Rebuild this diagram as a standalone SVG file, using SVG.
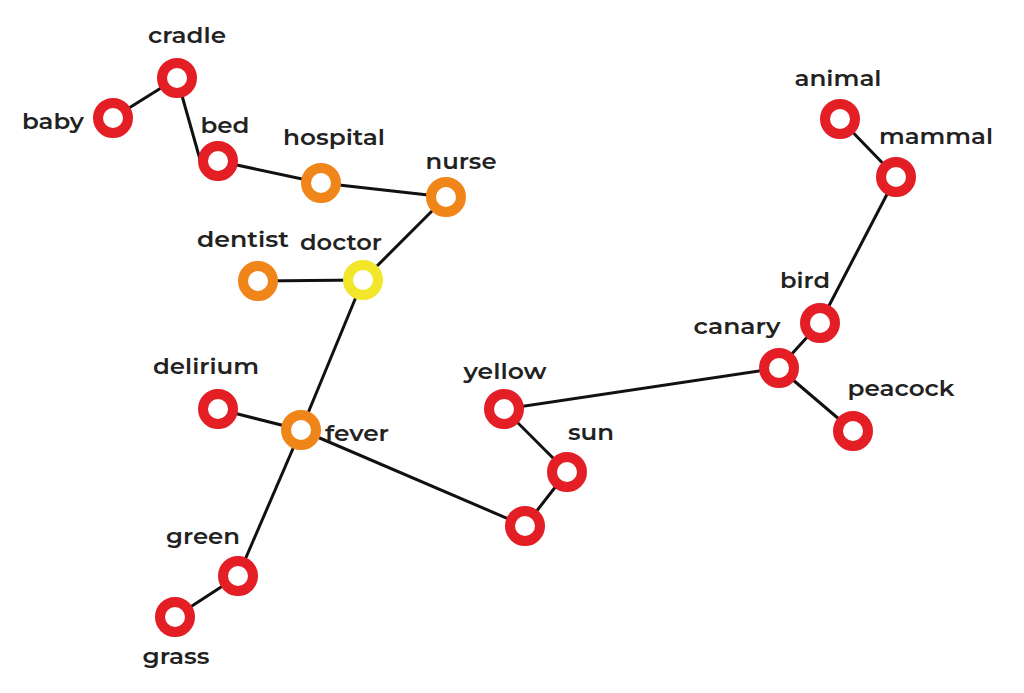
<svg xmlns="http://www.w3.org/2000/svg" width="1024" height="693" viewBox="0 0 1024 693">
<style>
.e{stroke:#111;stroke-width:3;fill:none}
.n{fill:#fff;stroke-width:10}
.r{stroke:#e31e25}
.o{stroke:#f08519}
.y{stroke:#f2e62b}
text{font-family:Montserrat,Inter,"Open Sans","Liberation Sans",sans-serif;font-weight:600;font-size:22.5px;fill:#222;text-anchor:middle}
</style>
<rect width="1024" height="693" fill="#fff"/>
<g id="edges">
<line class="e" x1="113" y1="118" x2="177" y2="78"/>
<line class="e" x1="177" y1="78" x2="201" y2="163"/>
<line class="e" x1="218" y1="161" x2="321" y2="183"/>
<line class="e" x1="321" y1="183" x2="446" y2="197"/>
<line class="e" x1="446" y1="197" x2="363" y2="280"/>
<line class="e" x1="258" y1="281" x2="363" y2="280"/>
<line class="e" x1="363" y1="280" x2="301" y2="430"/>
<line class="e" x1="218" y1="409" x2="301" y2="430"/>
<line class="e" x1="301" y1="430" x2="238" y2="576"/>
<line class="e" x1="238" y1="576" x2="175" y2="617"/>
<line class="e" x1="301" y1="430" x2="525" y2="526"/>
<line class="e" x1="525" y1="526" x2="567" y2="472"/>
<line class="e" x1="567" y1="472" x2="504" y2="409"/>
<line class="e" x1="504" y1="409" x2="779" y2="368"/>
<line class="e" x1="779" y1="368" x2="820" y2="323"/>
<line class="e" x1="820" y1="323" x2="896" y2="177"/>
<line class="e" x1="896" y1="177" x2="840" y2="119"/>
<line class="e" x1="779" y1="368" x2="853" y2="431"/>
</g>
<g id="cradle"><circle class="n r" cx="177" cy="78" r="15"/><text x="187" y="43" textLength="78" lengthAdjust="spacingAndGlyphs">cradle</text></g>
<g id="baby"><circle class="n r" cx="113" cy="118" r="15"/><text x="53" y="129" textLength="62" lengthAdjust="spacingAndGlyphs">baby</text></g>
<g id="bed"><circle class="n r" cx="218" cy="161" r="15"/><text x="225" y="133" textLength="49" lengthAdjust="spacingAndGlyphs">bed</text></g>
<g id="hospital"><circle class="n o" cx="321" cy="183" r="15"/><text x="334" y="145" textLength="102" lengthAdjust="spacingAndGlyphs">hospital</text></g>
<g id="nurse"><circle class="n o" cx="446" cy="197" r="15"/><text x="461" y="169" textLength="71" lengthAdjust="spacingAndGlyphs">nurse</text></g>
<g id="dentist"><circle class="n o" cx="258" cy="281" r="15"/><text x="243" y="247" textLength="92" lengthAdjust="spacingAndGlyphs">dentist</text></g>
<g id="doctor"><circle class="n y" cx="363" cy="280" r="15"/><text x="341" y="250" textLength="82" lengthAdjust="spacingAndGlyphs">doctor</text></g>
<g id="delirium"><circle class="n r" cx="218" cy="409" r="15"/><text x="206" y="374" textLength="106" lengthAdjust="spacingAndGlyphs">delirium</text></g>
<g id="fever"><circle class="n o" cx="301" cy="430" r="15"/><text x="357" y="441" textLength="64" lengthAdjust="spacingAndGlyphs">fever</text></g>
<g id="green"><circle class="n r" cx="238" cy="576" r="15"/><text x="203" y="544" textLength="74" lengthAdjust="spacingAndGlyphs">green</text></g>
<g id="grass"><circle class="n r" cx="175" cy="617" r="15"/><text x="176" y="664" textLength="67" lengthAdjust="spacingAndGlyphs">grass</text></g>
<g id="unlabeled"><circle class="n r" cx="525" cy="526" r="15"/></g>
<g id="sun"><circle class="n r" cx="567" cy="472" r="15"/><text x="591" y="440" textLength="46" lengthAdjust="spacingAndGlyphs">sun</text></g>
<g id="yellow"><circle class="n r" cx="504" cy="409" r="15"/><text x="505" y="379" textLength="83" lengthAdjust="spacingAndGlyphs">yellow</text></g>
<g id="canary"><circle class="n r" cx="779" cy="368" r="15"/><text x="737" y="334" textLength="87" lengthAdjust="spacingAndGlyphs">canary</text></g>
<g id="bird"><circle class="n r" cx="820" cy="323" r="15"/><text x="805" y="288" textLength="50" lengthAdjust="spacingAndGlyphs">bird</text></g>
<g id="mammal"><circle class="n r" cx="896" cy="177" r="15"/><text x="936" y="144" textLength="114" lengthAdjust="spacingAndGlyphs">mammal</text></g>
<g id="animal"><circle class="n r" cx="840" cy="119" r="15"/><text x="838" y="86" textLength="87" lengthAdjust="spacingAndGlyphs">animal</text></g>
<g id="peacock"><circle class="n r" cx="853" cy="431" r="15"/><text x="901" y="396" textLength="107" lengthAdjust="spacingAndGlyphs">peacock</text></g>
</svg>
